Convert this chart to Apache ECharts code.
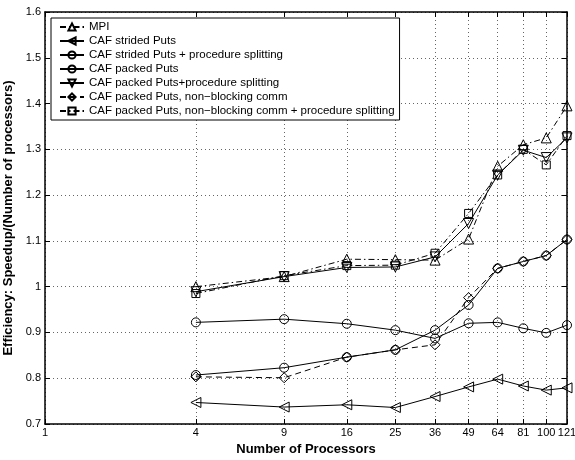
<!DOCTYPE html>
<html>
<head>
<meta charset="utf-8">
<script src="https://cdn.jsdelivr.net/npm/echarts@6/dist/echarts.min.js"></script>
<style>html,body{margin:0;padding:0;background:#fff}#c{width:575px;height:460px}</style>
</head>
<body>
<div id="c"></div>
<script>
const procs = [4, 9, 16, 25, 36, 49, 64, 81, 100, 121];
const xTicks = [1, 4, 9, 16, 25, 36, 49, 64, 81, 100, 121];
const mpi = [1.000, 1.022, 1.060, 1.059, 1.058, 1.104, 1.263, 1.310, 1.325, 1.395];
const stridedPuts = [0.747, 0.737, 0.742, 0.736, 0.760, 0.781, 0.798, 0.783, 0.774, 0.779];
const stridedSplit = [0.922, 0.929, 0.919, 0.905, 0.887, 0.920, 0.922, 0.909, 0.899, 0.916];
const packedPuts = [0.807, 0.823, 0.846, 0.862, 0.905, 0.960, 1.040, 1.055, 1.068, 1.103];
const packedSplit = [0.989, 1.022, 1.042, 1.043, 1.065, 1.138, 1.244, 1.298, 1.282, 1.325];
const packedNB = [0.803, 0.801, 0.846, 0.862, 0.873, 0.976, 1.040, 1.055, 1.068, 1.103];
const packedNBSplit = [0.985, 1.024, 1.046, 1.047, 1.073, 1.160, 1.244, 1.300, 1.266, 1.330];
const names = ['MPI', 'CAF strided Puts', 'CAF strided Puts + procedure splitting', 'CAF packed Puts',
  'CAF packed Puts+procedure splitting', 'CAF packed Puts, non\u2212blocking comm',
  'CAF packed Puts, non\u2212blocking comm + procedure splitting'];

const FONT = '"Liberation Sans", Arial, Helvetica, sans-serif';
const pairs = arr => procs.map((p, i) => [p, arr[i]]);
function mk(name, data, symbol, rot, dash, size) {
  return {
    name, type: 'line', data: pairs(data), symbol, symbolRotate: rot, symbolSize: size || 9,
    showSymbol: true,
    itemStyle: { color: 'rgba(255,255,255,0)', borderColor: '#000', borderWidth: 1 },
    lineStyle: { color: '#000', width: 1, type: dash },
    emphasis: { disabled: true }
  };
}
const DASHDOT = [6, 3, 1.5, 3];
const series = [
  mk(names[0], mpi, 'triangle', 0, DASHDOT, 10),
  mk(names[1], stridedPuts, 'triangle', 90, 'solid', 10),
  mk(names[2], stridedSplit, 'circle', 0, 'solid', 9),
  mk(names[3], packedPuts, 'circle', 0, 'solid', 9),
  mk(names[4], packedSplit, 'triangle', 180, 'solid', 10),
  mk(names[5], packedNB, 'diamond', 0, [6, 4], 10),
  mk(names[6], packedNBSplit, 'rect', 0, DASHDOT, 8)
];

const chart = echarts.init(document.getElementById('c'), null, { renderer: 'canvas' });
const axisLine = { show: true, lineStyle: { color: '#000', width: 1.5 } };
chart.setOption({
  animation: false,
  backgroundColor: '#fff',
  textStyle: { fontFamily: FONT },
  grid: { left: 45, right: 8, top: 12, bottom: 36, containLabel: false, outerBoundsMode: 'none' },
  legend: {
    orient: 'vertical', left: 51, top: 18,
    data: names,
    backgroundColor: '#fff', borderColor: '#000', borderWidth: 1,
    padding: [3, 5, 3, 8], itemGap: 2, itemWidth: 24, itemHeight: 9,
    textStyle: { fontFamily: FONT, fontSize: 11.5, color: '#000' },
    selectedMode: false
  },
  xAxis: [{
    type: 'log', logBase: 10, min: 1, max: 121,
    name: 'Number of Processors', nameLocation: 'middle', nameGap: 17,
    nameTextStyle: { fontFamily: FONT, fontSize: 13, fontWeight: 'bold', color: '#000' },
    axisLine,
    axisTick: { show: true, inside: true, length: 5, customValues: xTicks, lineStyle: { color: '#000' } },
    axisLabel: { customValues: xTicks, fontSize: 11, color: '#000', margin: 3, fontFamily: FONT,
      formatter: v => String(Math.round(v)) },
    splitLine: { show: true, lineStyle: { color: '#666', type: [1, 3], width: 1 } }
  }, {
    type: 'log', logBase: 10, min: 1, max: 121, position: 'top',
    axisLine,
    axisTick: { show: true, inside: true, length: 5, customValues: xTicks, lineStyle: { color: '#000' } },
    axisLabel: { show: false },
    splitLine: { show: false }
  }],
  yAxis: [{
    type: 'value', min: 0.7, max: 1.6, interval: 0.1,
    name: 'Efficiency: Speedup/(Number of processors)', nameLocation: 'middle', nameGap: 27,
    nameTextStyle: { fontFamily: FONT, fontSize: 13, fontWeight: 'bold', color: '#000' },
    axisLine,
    axisTick: { show: true, inside: true, length: 5, lineStyle: { color: '#000' } },
    axisLabel: { fontSize: 11, color: '#000', margin: 4, fontFamily: FONT,
      formatter: v => String(Math.round(v * 10) / 10) },
    splitLine: { show: true, lineStyle: { color: '#666', type: [1, 3], width: 1 } }
  }, {
    type: 'value', min: 0.7, max: 1.6, interval: 0.1, position: 'right',
    axisLine,
    axisTick: { show: true, inside: true, length: 5, lineStyle: { color: '#000' } },
    axisLabel: { show: false },
    splitLine: { show: false }
  }],
  series
});
</script>
</body>
</html>
